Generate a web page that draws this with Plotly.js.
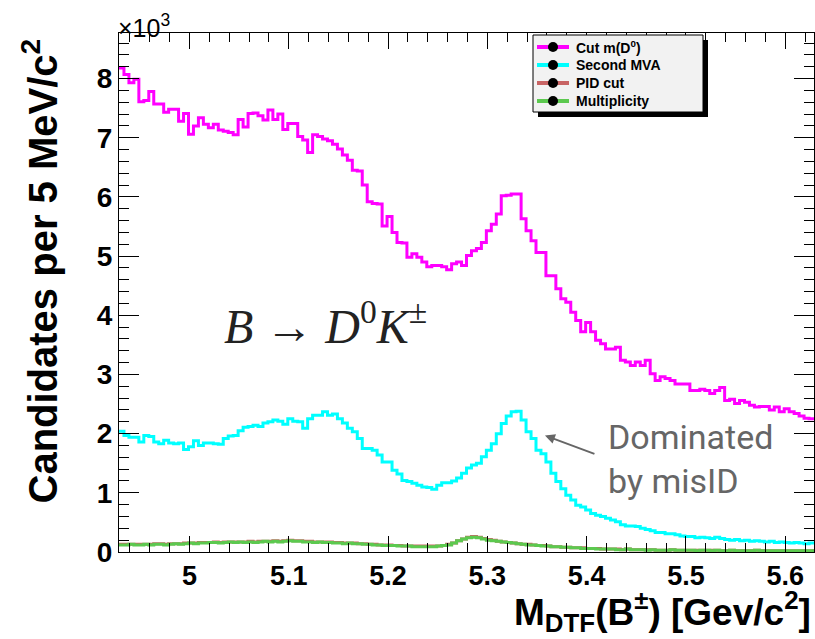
<!DOCTYPE html>
<html>
<head>
<meta charset="utf-8">
<script src="https://cdn.plot.ly/plotly-3.0.1.min.js"></script>
<style>html,body{margin:0;padding:0;background:#fff;}#chart{width:815px;height:639px;}</style>
</head>
<body>
<div id="chart"></div>
<script>
// ---- data (candidates per 5 MeV/c^2 bin) ----
const binStart = 4.929;   // GeV/c^2, low edge of first bin
const binWidth = 0.005;   // 5 MeV/c^2

const cutMD0 = [
  8180,8070,7930,7990,7610,7630,7780,7570,7570,7430,
  7480,7480,7280,7410,7060,7200,7340,7230,7170,7230,
  7130,7110,7090,7050,7310,7180,7410,7420,7370,7300,
  7470,7310,7400,7140,7240,7240,7020,6960,6750,7050,
  7020,6980,6950,6890,6810,6710,6620,6450,6440,6200,
  5920,5890,5880,5510,5670,5400,5230,5220,4980,5040,
  4980,4900,4820,4840,4840,4820,4770,4870,4900,4840,
  5010,5090,5130,5230,5430,5540,5710,6020,6030,6050,
  6050,5630,5430,5260,5060,5060,4670,4670,4450,4280,
  4220,4050,3910,3720,3880,3720,3580,3520,3430,3430,
  3460,3240,3210,3150,3210,3150,3240,3010,2900,2960,
  2930,2900,2840,2840,2840,2730,2730,2750,2730,2680,
  2730,2780,2560,2580,2510,2560,2530,2480,2450,2460,
  2460,2400,2450,2370,2420,2370,2340,2300,2260,2250
];

const secondMVA = [
  2040,1970,1940,1940,1860,1970,1950,1860,1830,1890,
  1840,1830,1840,1730,1780,1880,1800,1840,1840,1830,
  1820,1920,1960,1970,2050,2110,2120,2140,2120,2180,
  2200,2230,2210,2160,2250,2210,2200,2090,2250,2310,
  2310,2370,2310,2330,2250,2180,2090,2030,1920,1750,
  1750,1720,1640,1520,1520,1380,1320,1210,1190,1160,
  1130,1100,1090,1060,1130,1170,1170,1200,1250,1330,
  1420,1470,1500,1610,1720,1830,2000,2170,2300,2370,
  2380,2230,2030,1920,1720,1660,1520,1330,1190,1070,
  960,880,790,760,710,650,620,600,570,540,
  510,460,440,440,430,400,380,360,330,330,
  310,310,290,270,260,260,240,250,240,230,
  250,230,210,200,210,190,200,180,190,180,
  170,180,160,170,160,150,160,150,140,150
];

const pidCut = [
  130,130,130,130,130,130,130,140,140,130,
  140,140,140,150,150,150,160,160,160,170,
  160,170,170,170,170,170,180,170,180,180,
  180,190,180,190,200,190,190,180,180,170,
  170,170,170,160,160,150,150,150,140,140,
  130,130,120,120,120,110,110,100,100,100,
  100,100,100,100,100,110,130,150,190,220,
  250,260,250,230,210,200,180,170,160,150,
  140,130,130,120,110,110,100,90,90,80,
  80,70,70,70,60,60,60,50,50,50,
  50,40,50,40,40,40,40,40,30,30,
  30,40,30,30,30,30,30,30,30,30,
  30,20,20,30,20,20,20,20,30,20,
  20,20,20,20,20,20,20,20,20,20
];

const multiplicity = [
  120,120,130,120,120,130,120,130,130,120,
  130,140,130,140,150,140,150,150,160,160,
  150,160,170,160,170,160,170,160,170,180,
  170,180,170,180,190,180,180,170,170,160,
  170,160,160,150,150,140,150,140,140,130,
  130,120,120,110,110,110,100,100,100,90,
  90,90,90,90,100,110,120,150,190,220,
  240,250,240,220,200,190,180,170,160,150,
  140,130,120,120,110,100,100,90,90,80,
  80,70,70,60,60,60,50,50,50,50,
  40,40,50,40,40,40,30,40,30,30,
  30,40,30,30,30,30,20,30,30,20,
  30,20,20,30,20,20,20,20,30,20,
  20,20,20,20,20,20,20,20,20,20
];

const seriesNames  = ["Cut m(D<sup>0</sup>)", "Second MVA", "PID cut", "Multiplicity"];
const seriesColors = ["#ff00ff", "#00ffff", "#c86464", "#5cc94f"];
const yTickVals  = [0,1000,2000,3000,4000,5000,6000,7000,8000];
const yTickText  = ["0","1","2","3","4","5","6","7","8"];
const xTickVals  = [5.0,5.1,5.2,5.3,5.4,5.5,5.6];
const xTickText  = ["5","5.1","5.2","5.3","5.4","5.5","5.6"];

// ---- build step histograms ----
function edges(n){ const e=[]; for(let i=0;i<=n;i++) e.push(+(binStart+i*binWidth).toFixed(4)); return e; }
function stepY(v){ return v.concat([v[v.length-1]]); }

const seriesData = [cutMD0, secondMVA, pidCut, multiplicity];
const traces = seriesData.map((v,k)=>({
  type:'scatter', mode:'lines', name:seriesNames[k], x:edges(v.length), y:stepY(v),
  line:{shape:'hv', color:seriesColors[k], width:3},
  showlegend:false, hoverinfo:'skip'
}));

const W=815,H=639,L=119,R=1,T=33,B=87;
const pw=W-L-R, ph=H-T-B;
const px2x = p => (p-L)/pw;
const py2y = p => (H-B-p)/ph;

const FAM = 'Liberation Sans, Arial, Helvetica, sans-serif';
function boldFont(size){ return {family:FAM, size:size, color:'black', weight:'bold'}; }

// ---- ROOT-style legend box (drawn with shapes and text) ----
const legRows = [47, 65, 83, 101];
const shapes = [
  {type:'rect', xref:'paper', yref:'paper', x0:px2x(538), x1:px2x(708), y0:py2y(117), y1:py2y(40),
   fillcolor:'black', line:{width:0}, layer:'above'},
  {type:'rect', xref:'paper', yref:'paper', x0:px2x(533), x1:px2x(703), y0:py2y(112), y1:py2y(35),
   fillcolor:'#f2f2f2', line:{color:'black', width:1}, layer:'above'}
];
const annotations = [];
seriesNames.forEach((nm,k)=>{
  const yy = py2y(legRows[k]);
  shapes.push({type:'line', xref:'paper', yref:'paper', x0:px2x(537), x1:px2x(569), y0:yy, y1:yy,
    line:{color:seriesColors[k], width:4}, layer:'above'});
  shapes.push({type:'circle', xref:'paper', yref:'paper', xsizemode:'pixel', ysizemode:'pixel',
    xanchor:px2x(553), yanchor:yy, x0:-5, x1:5, y0:-5, y1:5,
    fillcolor:'black', line:{color:'black', width:0}, layer:'above'});
  annotations.push({xref:'paper', yref:'paper', x:px2x(574), y:yy, xanchor:'left', yanchor:'middle',
    showarrow:false, text:nm, font:boldFont(14)});
});

annotations.push(
  {xref:'paper', yref:'paper', x:px2x(116), y:py2y(44), xanchor:'left', yanchor:'bottom', showarrow:false,
   text:'×10<sup>3</sup>', font:{family:FAM, size:25, color:'black'}},
  {xref:'paper', yref:'paper', x:px2x(40), y:py2y(37), xanchor:'center', yanchor:'top', showarrow:false,
   textangle:-90, text:'Candidates per 5 MeV/c<sup>2</sup>', font:boldFont(40)},
  {xref:'paper', yref:'paper', x:px2x(813), y:py2y(584), xanchor:'right', yanchor:'top', showarrow:false,
   text:'M<sub>DTF</sub>(B<sup>±</sup>) [Gev/c<sup>2</sup>]', font:boldFont(37)},
  {xref:'paper', yref:'paper', x:px2x(222), y:py2y(323), xanchor:'left', yanchor:'middle', showarrow:false,
   text:'<i>B</i> → <i>D</i><sup>0</sup><i>K</i><sup>±</sup>',
   font:{family:'Liberation Serif, DejaVu Serif, serif', size:48, color:'#222'}},
  {xref:'paper', yref:'paper', x:px2x(606), y:py2y(459), xanchor:'left', yanchor:'middle', showarrow:false, align:'left',
   text:'Dominated<br>by misID', font:{family:'Roboto, sans-serif', size:34, color:'#666'}},
  {xref:'x', yref:'y', x:5.358, y:1970, ax:51, ay:19, text:'', showarrow:true,
   arrowhead:2, arrowsize:1, arrowwidth:2, arrowcolor:'#666'}
);

const layout = {
  width:W, height:H,
  font:{family:FAM, size:27, color:'black'},
  margin:{l:L,r:R,t:T,b:B,pad:0},
  paper_bgcolor:'white', plot_bgcolor:'white',
  showlegend:false,
  xaxis:{
    range:[binStart, binStart+0.7], tickmode:'array', tickvals:xTickVals, ticktext:xTickText,
    ticks:'inside', ticklen:16, tickwidth:1, tickcolor:'black',
    showline:true, linecolor:'black', linewidth:1, mirror:'ticks',
    showgrid:false, zeroline:false,
    tickfont:{family:FAM, size:27, color:'black', weight:'bold'},
    minor:{dtick:0.02, tick0:5.0, ticks:'inside', ticklen:9, tickwidth:1, tickcolor:'black', showgrid:false}
  },
  yaxis:{
    range:[0, 8770], tickmode:'array', tickvals:yTickVals, ticktext:yTickText,
    ticks:'inside', ticklen:20, tickwidth:1, tickcolor:'black',
    showline:true, linecolor:'black', linewidth:1, mirror:'ticks',
    showgrid:false, zeroline:false,
    tickfont:{family:FAM, size:28, color:'black', weight:'bold'},
    minor:{dtick:200, tick0:0, ticks:'inside', ticklen:10, tickwidth:1, tickcolor:'black', showgrid:false}
  },
  shapes:shapes,
  annotations:annotations
};

Plotly.newPlot('chart', traces, layout, {displayModeBar:false, staticPlot:true});
</script>
</body>
</html>
